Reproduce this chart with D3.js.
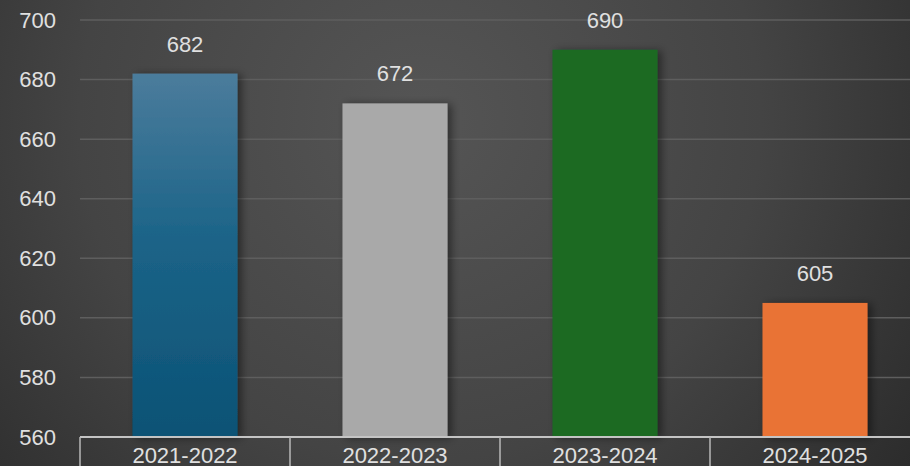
<!DOCTYPE html>
<html>
<head>
<meta charset="utf-8">
<script src="https://cdn.jsdelivr.net/npm/d3@7"></script>
<style>
  body { margin: 0; background: #2e2e2e; }
  svg { display: block; font-family: "Liberation Sans", Arial, sans-serif; }
</style>
</head>
<body>
<svg id="chart" width="910" height="466"></svg>
<script>
// chart data
var seasons = ["2021-2022", "2022-2023", "2023-2024", "2024-2025"];
var counts = [682, 672, 690, 605];
var yTicks = [560, 580, 600, 620, 640, 660, 680, 700];

var width = 910, height = 466;
var margin = { left: 80, top: 20, bottom: 437 };
var font = "'Liberation Sans', Arial, sans-serif";

var svg = d3.select("#chart");
var defs = svg.append("defs");

// background gradient
var bg = defs.append("radialGradient")
    .attr("id", "bg")
    .attr("gradientUnits", "userSpaceOnUse")
    .attr("cx", 420).attr("cy", 120).attr("r", 620);
bg.append("stop").attr("offset", "0%").attr("stop-color", "#555555");
bg.append("stop").attr("offset", "55%").attr("stop-color", "#444444");
bg.append("stop").attr("offset", "100%").attr("stop-color", "#2a2a2a");

// blue bar gradient
var blue = defs.append("linearGradient")
    .attr("id", "blueGrad")
    .attr("x1", 0).attr("y1", 0).attr("x2", 0).attr("y2", 1);
blue.append("stop").attr("offset", "0%").attr("stop-color", "#4b7c9c");
blue.append("stop").attr("offset", "45%").attr("stop-color", "#1c6488");
blue.append("stop").attr("offset", "100%").attr("stop-color", "#0b5275");

var shadow = defs.append("filter")
    .attr("id", "shadow")
    .attr("x", "-20%").attr("y", "-20%").attr("width", "150%").attr("height", "140%");
shadow.append("feDropShadow")
    .attr("dx", 4).attr("dy", 1)
    .attr("stdDeviation", 4)
    .attr("flood-color", "#000")
    .attr("flood-opacity", 0.45);

var barColors = ["url(#blueGrad)", "#a9a9a9", "#1a6a24", "#e97334"];

svg.append("rect").attr("width", width).attr("height", height).attr("fill", "url(#bg)");

var x = d3.scaleBand()
    .domain(seasons)
    .range([margin.left, margin.left + 840])
    .paddingInner(0.5)
    .paddingOuter(0.25);

var xBand = d3.scaleBand()
    .domain(seasons)
    .range([margin.left, margin.left + 840]);

var y = d3.scaleLinear()
    .domain([560, 700])
    .range([margin.bottom, margin.top]);

// gridlines
svg.append("g")
    .selectAll("line")
    .data(yTicks.slice(1))
    .enter()
    .append("line")
    .attr("x1", margin.left)
    .attr("x2", width)
    .attr("y1", function(d) { return y(d); })
    .attr("y2", function(d) { return y(d); })
    .attr("stroke", "#5e5e5e")
    .attr("stroke-width", 1.5);

// y axis labels
var yAxis = d3.axisLeft(y).tickValues(yTicks).tickSize(0).tickPadding(0);
var yG = svg.append("g")
    .attr("transform", "translate(56,0)")
    .call(yAxis);
yG.select(".domain").remove();
yG.selectAll("text")
    .attr("fill", "#e0e0e0")
    .style("font-size", "22px")
    .style("font-family", font);

// bars
svg.append("g")
    .selectAll("rect")
    .data(counts)
    .enter()
    .append("rect")
    .attr("x", function(d, i) { return x(seasons[i]); })
    .attr("width", x.bandwidth())
    .attr("y", function(d) { return y(d); })
    .attr("height", function(d) { return y(560) - y(d); })
    .attr("fill", function(d, i) { return barColors[i]; })
    .attr("filter", "url(#shadow)");

// value labels
svg.append("g")
    .selectAll("text")
    .data(counts)
    .enter()
    .append("text")
    .attr("x", function(d, i) { return x(seasons[i]) + x.bandwidth() / 2; })
    .attr("y", function(d) { return y(d) - 22; })
    .attr("text-anchor", "middle")
    .attr("fill", "#e0e0e0")
    .style("font-size", "22px")
    .style("font-family", font)
    .text(function(d) { return d; });

// category boxes along the bottom
var xAxis = d3.axisBottom(xBand).tickSize(0).tickPadding(0);
var xG = svg.append("g")
    .attr("transform", "translate(0," + margin.bottom + ")")
    .call(xAxis);
xG.select(".domain").remove();
xG.selectAll("text")
    .attr("y", 26)
    .attr("dy", 0)
    .attr("fill", "#e0e0e0")
    .style("font-size", "22px")
    .style("font-family", font);

svg.append("line")
    .attr("x1", margin.left).attr("x2", width)
    .attr("y1", margin.bottom).attr("y2", margin.bottom)
    .attr("stroke", "#c4c4c4")
    .attr("stroke-width", 2);

svg.append("g")
    .selectAll("line")
    .data(seasons)
    .enter()
    .append("line")
    .attr("x1", function(d) { return xBand(d); })
    .attr("x2", function(d) { return xBand(d); })
    .attr("y1", margin.bottom)
    .attr("y2", height)
    .attr("stroke", "#b8b8b8")
    .attr("stroke-width", 1.5);
</script>
</body>
</html>
